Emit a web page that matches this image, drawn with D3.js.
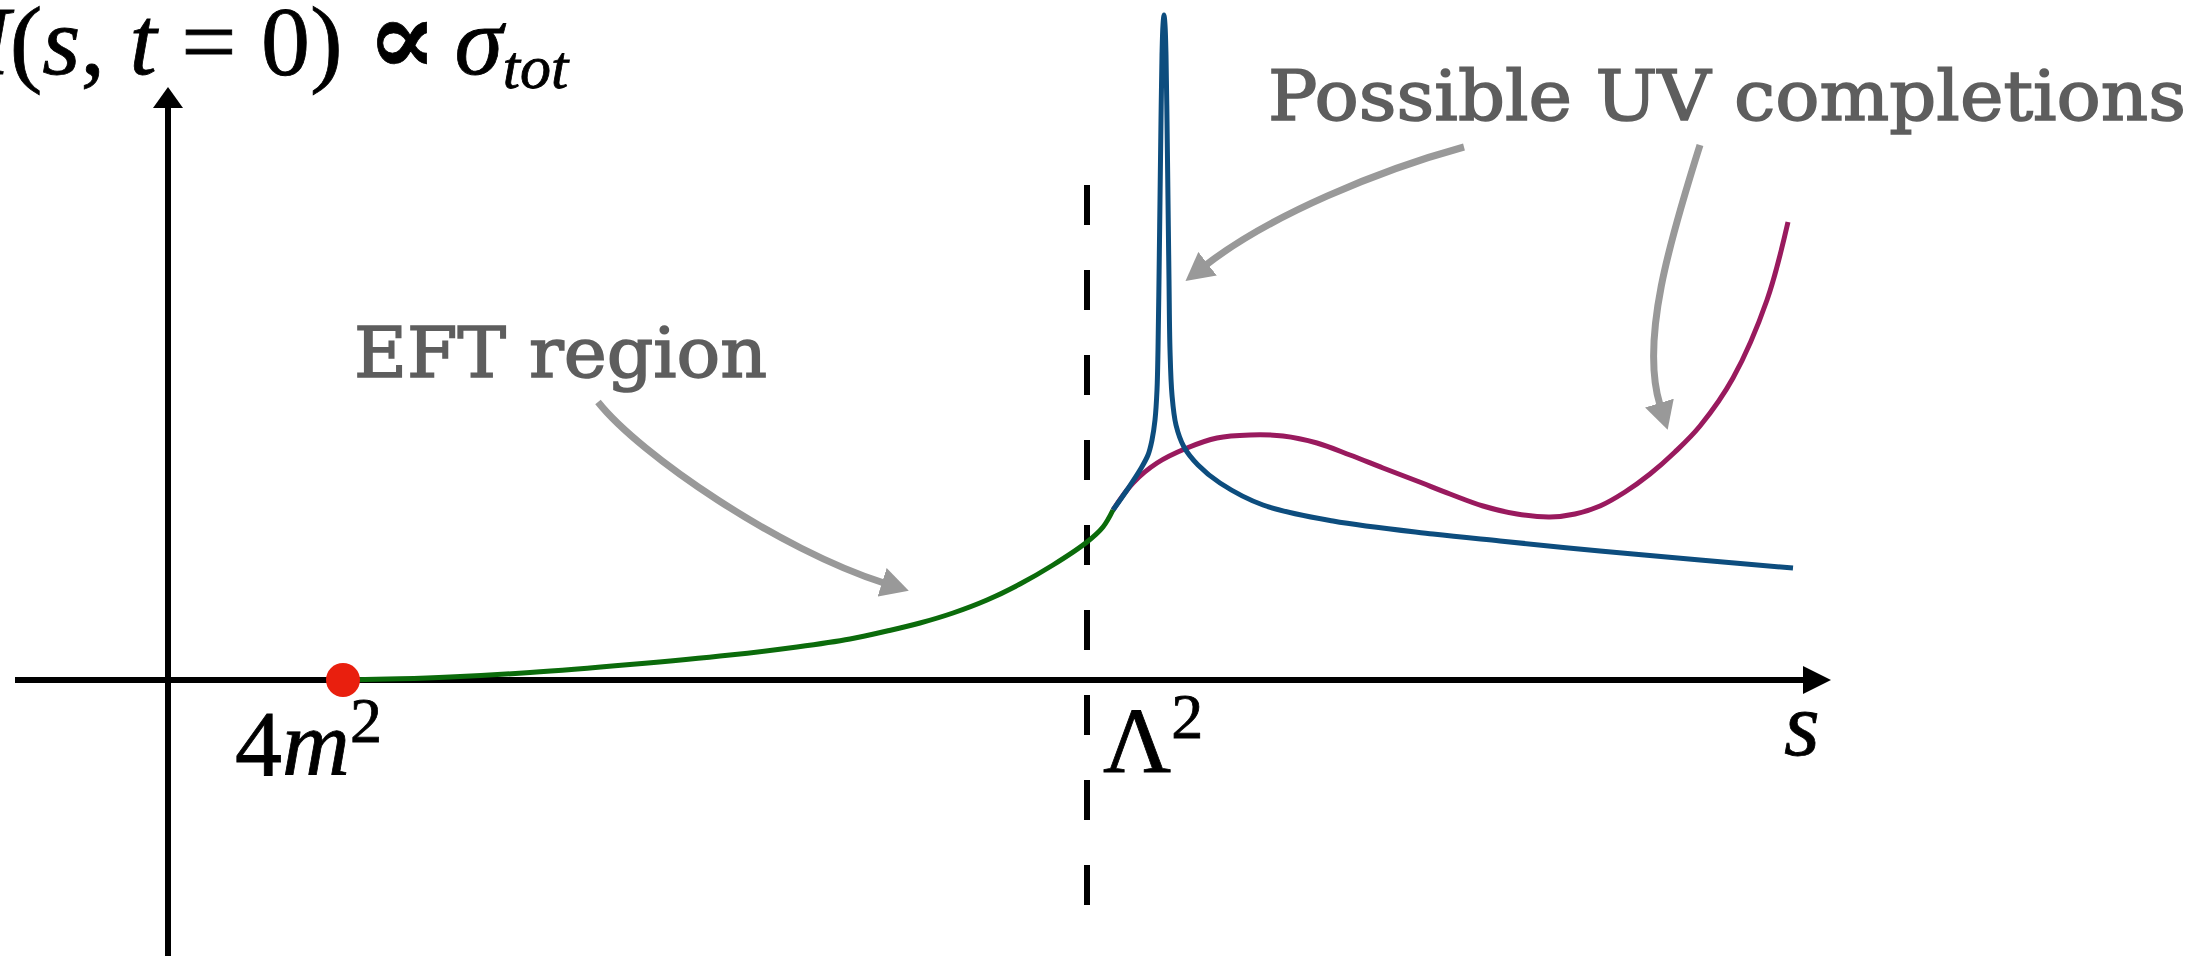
<!DOCTYPE html>
<html>
<head>
<meta charset="utf-8">
<script src="https://cdn.jsdelivr.net/npm/d3@7"></script>
<style>
  body { margin: 0; background: #fff; }
  svg { display: block; }
</style>
</head>
<body>
<script>
// s values and amplitude values (arbitrary units)
const eftS = [1.75, 2.32, 2.82, 3.62, 4.62, 5.62, 6.29, 6.82, 7.19, 7.52, 7.85, 8.19, 8.52, 8.85, 9.19, 9.35, 9.45]
const eftA = [0, 0.012, 0.03, 0.075, 0.155, 0.25, 0.33, 0.41, 0.49, 0.57, 0.67, 0.80, 0.96, 1.15, 1.38, 1.53, 1.70]

const resS = [9.45, 9.59, 9.72, 9.80, 9.84, 9.87, 9.89, 9.90, 9.91, 9.92, 9.93, 9.94, 9.95, 9.96, 9.97, 9.98, 9.99, 10.00, 10.01, 10.02, 10.04, 10.08, 10.16, 10.30, 10.52, 10.95, 11.65, 12.65, 13.32, 14.32, 15.32, 16.25]
const resA = [1.70, 1.90, 2.10, 2.25, 2.40, 2.60, 2.90, 3.30, 4.00, 4.80, 5.60, 6.25, 6.55, 6.65, 6.55, 6.25, 5.60, 4.80, 4.00, 3.30, 2.85, 2.55, 2.33, 2.15, 1.97, 1.75, 1.59, 1.46, 1.39, 1.29, 1.20, 1.12]

const uvS = [9.45, 9.65, 9.89, 10.19, 10.49, 10.82, 11.15, 11.49, 11.82, 12.15, 12.49, 12.82, 13.15, 13.49, 13.82, 14.07, 14.32, 14.57, 14.82, 15.07, 15.32, 15.65, 15.99, 16.20]
const uvA = [1.70, 1.97, 2.17, 2.32, 2.42, 2.45, 2.44, 2.37, 2.25, 2.12, 1.99, 1.86, 1.74, 1.66, 1.63, 1.66, 1.74, 1.88, 2.06, 2.28, 2.54, 3.02, 3.80, 4.58]

const threshold = 1.75   // 4m^2
const cutoff = 9.19      // Lambda^2

// annotation arrows (start, control, control, end), same units
const eftArrow = [[4.30, 2.78], [4.72, 2.25], [6.12, 1.30], [7.16, 0.97]]
const uvArrowL = [[12.96, 5.33], [12.12, 5.10], [11.02, 4.65], [10.38, 4.15]]
const uvArrowR = [[15.32, 5.35], [15.02, 4.40], [14.72, 3.40], [14.92, 2.75]]

const W = 2197, H = 956

var svg = d3.select('body')
    .append('svg')
    .attr('width', W)
    .attr('height', H)

var x = d3.scaleLinear().domain([0, 10]).range([168, 1168])
var y = d3.scaleLinear().domain([0, 5]).range([680, 180])

var defs = svg.append('defs')
function arrowMarker(id, len, half, color) {
    defs.append('marker')
        .attr('id', id)
        .attr('markerUnits', 'userSpaceOnUse')
        .attr('viewBox', '0 0 ' + len + ' ' + (2 * half))
        .attr('markerWidth', len)
        .attr('markerHeight', 2 * half)
        .attr('refX', 2)
        .attr('refY', half)
        .attr('orient', 'auto')
        .append('path')
        .attr('d', 'M0,0L' + len + ',' + half + 'L0,' + (2 * half) + 'Z')
        .attr('fill', color)
}
arrowMarker('grayhead', 28, 15, '#999999')
arrowMarker('axhead', 28, 14, '#000')
arrowMarker('ayhead', 21, 15, '#000')

// axes
svg.append('line')
    .attr('x1', x(-1.53)).attr('y1', y(0))
    .attr('x2', x(16.37)).attr('y2', y(0))
    .attr('stroke', '#000').attr('stroke-width', 6)
    .attr('marker-end', 'url(#axhead)')

svg.append('line')
    .attr('x1', x(0)).attr('y1', H)
    .attr('x2', x(0)).attr('y2', y(5.74))
    .attr('stroke', '#000').attr('stroke-width', 6)
    .attr('marker-end', 'url(#ayhead)')

// cutoff line
svg.append('line')
    .attr('x1', x(cutoff)).attr('y1', y(4.95))
    .attr('x2', x(cutoff)).attr('y2', y(-2.25))
    .attr('stroke', '#000').attr('stroke-width', 6)
    .attr('stroke-dasharray', '40,45')

var line = d3.line()
    .x(function(d) { return x(d[0]) })
    .y(function(d) { return y(d[1]) })
    .curve(d3.curveCatmullRom.alpha(0.5))

svg.append('path')
    .datum(d3.zip(uvS, uvA))
    .attr('d', line)
    .attr('fill', 'none')
    .attr('stroke', '#991a5e')
    .attr('stroke-width', 5)

svg.append('path')
    .datum(d3.zip(resS, resA))
    .attr('d', line)
    .attr('fill', 'none')
    .attr('stroke', '#0d4d7e')
    .attr('stroke-width', 5)
    .attr('stroke-linejoin', 'round')

svg.append('path')
    .datum(d3.zip(eftS, eftA))
    .attr('d', line)
    .attr('fill', 'none')
    .attr('stroke', '#0b6b0b')
    .attr('stroke-width', 5)

svg.append('circle')
    .attr('cx', x(threshold))
    .attr('cy', y(0))
    .attr('r', 17)
    .attr('fill', '#e91f0e')

// gray arrows, one cubic each
;[eftArrow, uvArrowL, uvArrowR].forEach(function(a) {
    var p = d3.path()
    p.moveTo(x(a[0][0]), y(a[0][1]))
    p.bezierCurveTo(x(a[1][0]), y(a[1][1]), x(a[2][0]), y(a[2][1]), x(a[3][0]), y(a[3][1]))
    svg.append('path')
        .attr('d', p.toString())
        .attr('fill', 'none')
        .attr('stroke', '#999999')
        .attr('stroke-width', 7)
        .attr('marker-end', 'url(#grayhead)')
})

// text
var serif = "'Liberation Serif', 'Times New Roman', serif"
var typew = "'DejaVu Serif', serif"

function label(txt, x0, y0, len) {
    svg.append('text')
        .attr('x', x0).attr('y', y0)
        .attr('font-family', typew)
        .attr('font-size', 70)
        .attr('fill', '#5e5e5e')
        .attr('stroke', '#5e5e5e')
        .attr('stroke-width', 1.6)
        .attr('textLength', len)
        .attr('lengthAdjust', 'spacingAndGlyphs')
        .text(txt)
}
label('EFT region', 354, 377, 413)
label('Possible UV completions', 1268, 120, 918)

function mathText(x0, y0, size) {
    return svg.append('text')
        .attr('x', x0).attr('y', y0)
        .attr('font-family', serif).attr('font-size', size)
        .attr('fill', '#000')
        .attr('stroke', '#000').attr('stroke-width', 0.8)
}

// tick labels
var t1 = mathText(x(threshold) - 108, 775, 94)
t1.append('tspan').text('4')
t1.append('tspan').attr('font-style', 'italic').text('m')
t1.append('tspan').attr('font-size', 64).attr('dy', -33).text('2')

var t2 = mathText(x(cutoff) + 16, 772, 94)
t2.append('tspan').text('Λ')
t2.append('tspan').attr('font-size', 64).attr('dy', -34).text('2')

mathText(1784, 755, 92).attr('font-style', 'italic').text('s')

// y label
var yl = mathText(-72, 74, 98)
yl.append('tspan').attr('font-style', 'italic').text('M')
yl.append('tspan').text('(')
yl.append('tspan').attr('font-style', 'italic').text('s')
yl.append('tspan').text(', ')
yl.append('tspan').attr('font-style', 'italic').text('t')
yl.append('tspan').text(' = 0) ')
yl.append('tspan').attr('font-family', "'DejaVu Serif', serif").attr('font-weight', 'bold').attr('font-size', 104).text('∝')
yl.append('tspan').attr('font-size', 70).text(' ')
yl.append('tspan').attr('font-style', 'italic').text('σ')
yl.append('tspan').attr('font-style', 'italic').attr('font-size', 62).attr('dy', 14).text('tot')
</script>
</body>
</html>
